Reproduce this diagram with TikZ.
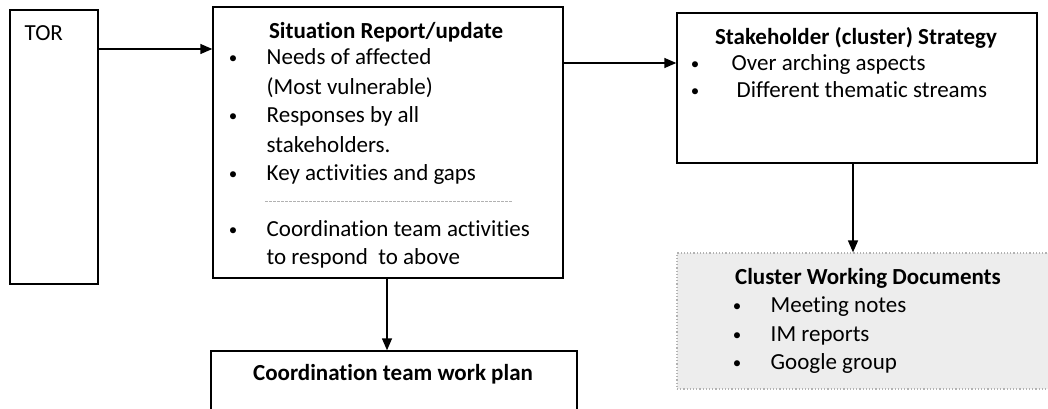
\documentclass[tikz,border=0pt]{standalone}
\usepackage{fontspec}
\setmainfont{Carlito}[Ligatures=NoCommon]
\usetikzlibrary{arrows.meta,positioning}
\tikzset{
	box/.style={
		rectangle,
		draw=black,
		line width=1.4pt,
		inner sep=0pt,
	},
	docbox/.style={
		rectangle,
		draw=gray!60,
		dotted,
		line width=1.2pt,
		fill=gray!14,
		inner sep=0pt,
	},
	line/.style={
		anchor=mid west,
		inner sep=0pt,
		font=\fontsize{23}{28}\selectfont
	},
	head/.style={
		anchor=mid,
		inner sep=0pt,
		font=\fontsize{23}{28}\selectfont\bfseries
	},
	bul/.style={
		anchor=center,
		inner sep=0pt,
		font=\fontsize{17}{20}\selectfont
	}
}

\begin{document}
\begin{tikzpicture}[x=1pt,y=-1pt,>={Triangle[length=12pt,width=10pt]},line width=1.4pt]
		\useasboundingbox (0,0) rectangle (1048,409);
		% boxes
		\node [box,minimum width=88pt,minimum height=274pt] (tor) at (54,147) {};
		\node [box,minimum width=350pt,minimum height=271pt] (sit) at (388,142.5) {};
		\node [box,minimum width=360pt,minimum height=150pt] (stk) at (857,88) {};
		\node [docbox,minimum width=376pt,minimum height=136pt] (doc) at (865,321) {};
		\node [box,minimum width=366pt,minimum height=60pt] (plan) at (394,381) {};
		% TOR
		\node [line] (tortxt) at (24,38) {TOR};
		% situation report
		\node [head] (sithead) at (386,36) {Situation Report/update};
		\node [bul] (sb1) at (233,60) {\textbullet};
		\node [line] (sl1) at (266,62) {Needs of affected};
		\node [line] (sl2) at (266,92) {(Most vulnerable)};
		\node [bul] (sb2) at (233,118) {\textbullet};
		\node [line] (sl3) at (266,120) {Responses by all};
		\node [line] (sl4) at (266,150) {stakeholders.};
		\node [bul] (sb3) at (233,176) {\textbullet};
		\node [line] (sl5) at (266,178) {Key activities and gaps};
		\coordinate (sepa) at (265,201);
		\coordinate (sepb) at (513,201);
		\draw [gray!60,line width=1pt,dash pattern=on 2.5pt off 1.5pt] (sepa) -- (sepb);
		\node [bul] (sb4) at (233,232) {\textbullet};
		\node [line] (sl6) at (266,234) {Coordination team activities};
		\node [line] (sl7) at (266,262) {to respond\ \ to above};
		% stakeholder strategy
		\node [head] (stkhead) at (856,42) {Stakeholder (cluster) Strategy};
		\node [bul] (kb1) at (695,66) {\textbullet};
		\node [line] (kl1) at (731,68) {Over arching aspects};
		\node [bul] (kb2) at (695,93) {\textbullet};
		\node [line] (kl2) at (736,95) {Different thematic streams};
		% cluster documents
		\node [head] (dochead) at (868,282) {Cluster Working Documents};
		\node [bul] (db1) at (737,308) {\textbullet};
		\node [line] (dl1) at (770,310) {Meeting notes};
		\node [bul] (db2) at (737,337) {\textbullet};
		\node [line] (dl2) at (770,339) {IM reports};
		\node [bul] (db3) at (737,365) {\textbullet};
		\node [line] (dl3) at (770,367) {Google group};
		% work plan
		\node [head] (planhead) at (393,378) {Coordination team work plan};
		% arrows
		\draw [->] (tor.east |- 0,49) -- (sit.west |- 0,49);
		\draw [->] (sit.east |- 0,63) -- (stk.west |- 0,63);
		\draw [->] (stk.south -| 853,0) -- (doc.north -| 853,0);
		\draw [->] (sit.south -| 387,0) -- (plan.north -| 387,0);
\end{tikzpicture}
\end{document}
